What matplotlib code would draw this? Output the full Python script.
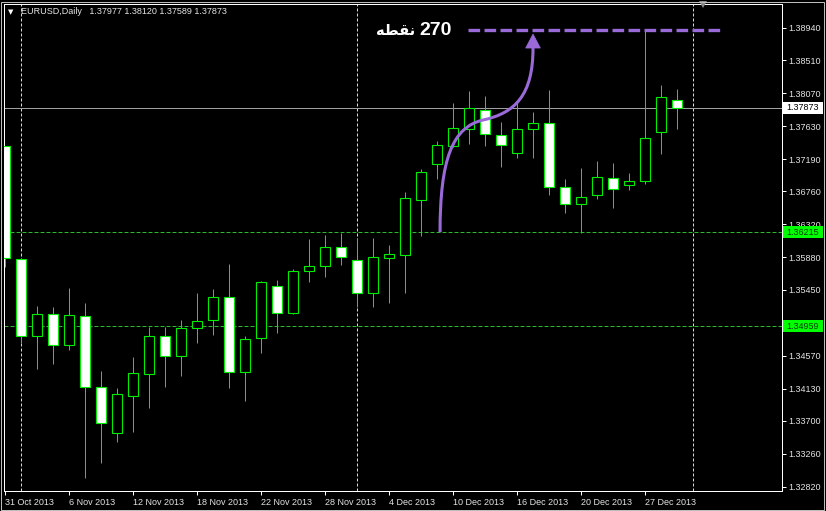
import matplotlib
matplotlib.use('Agg')
import matplotlib.pyplot as plt
from matplotlib.patches import Rectangle, Polygon, PathPatch
from matplotlib.path import Path
from matplotlib import font_manager

# ---------------- data ----------------
symbol_title = 'EURUSD,Daily'
last_ohlc = [1.37977, 1.38120, 1.37589, 1.37873]

opens = [1.37364, 1.35859, 1.34836, 1.35121, 1.34712, 1.35103, 1.34157, 1.33544,
         1.34037, 1.34330, 1.34836, 1.34570, 1.34943, 1.35045, 1.35348, 1.34357,
         1.34802, 1.35499, 1.35135, 1.35698, 1.35765, 1.36014, 1.35845, 1.35401,
         1.35868, 1.35912, 1.36645, 1.37124, 1.37368, 1.37587, 1.37844, 1.37511,
         1.37267, 1.37587, 1.37675, 1.36822, 1.36591, 1.36711, 1.36934, 1.36840,
         1.36898, 1.37547, 1.37977]
highs = [1.37364, 1.35859, 1.35232, 1.35223, 1.35468, 1.35276, 1.34370, 1.34143,
         1.34548, 1.34948, 1.34956, 1.35041, 1.35401, 1.35455, 1.35788, 1.34836,
         1.35565, 1.35579, 1.35720, 1.36121, 1.36178, 1.36201, 1.36134, 1.36134,
         1.36045, 1.36755, 1.37054, 1.37435, 1.37941, 1.38101, 1.38031, 1.37688,
         1.37950, 1.37821, 1.38110, 1.36929, 1.37067, 1.37164, 1.37134, 1.37000,
         1.38900, 1.38177, 1.38120]
lows = [1.35752, 1.34735, 1.34389, 1.34455, 1.34646, 1.32940, 1.33144, 1.33416,
        1.33557, 1.33877, 1.34157, 1.34299, 1.34735, 1.34846, 1.34135, 1.33966,
        1.34602, 1.34868, 1.35125, 1.35548, 1.35623, 1.35778, 1.35223, 1.35215,
        1.35268, 1.35401, 1.36165, 1.36920, 1.37355, 1.37391, 1.37364, 1.37080,
        1.37200, 1.37200, 1.36711, 1.36467, 1.36205, 1.36654, 1.36534, 1.36778,
        1.36858, 1.37258, 1.37589]
closes = [1.35872, 1.34836, 1.35121, 1.34712, 1.35108, 1.34157, 1.33677, 1.34055,
          1.34335, 1.34836, 1.34570, 1.34935, 1.35036, 1.35356, 1.34357, 1.34788,
          1.35548, 1.35143, 1.35702, 1.35769, 1.36022, 1.35881, 1.35401, 1.35889,
          1.35925, 1.36667, 1.37022, 1.37378, 1.37600, 1.37867, 1.37524, 1.37378,
          1.37587, 1.37675, 1.36814, 1.36591, 1.36689, 1.36955, 1.36791, 1.36898,
          1.37467, 1.38013, 1.37873]

date_labels = ['31 Oct 2013', '6 Nov 2013', '12 Nov 2013', '18 Nov 2013', '22 Nov 2013',
               '28 Nov 2013', '4 Dec 2013', '10 Dec 2013', '16 Dec 2013', '20 Dec 2013',
               '27 Dec 2013']
date_label_bars = [0, 4, 8, 12, 16, 20, 24, 28, 32, 36, 40]
separator_bars = [1, 22, 43]

price_ticks = [1.38940, 1.38510, 1.38070, 1.37630, 1.37190, 1.36760, 1.36320, 1.35880,
               1.35450, 1.35010, 1.34570, 1.34130, 1.33700, 1.33260, 1.32820]
bid_price = 1.37873
level_lines = [1.36215, 1.34959]
target_points = 270
point_size = 0.0001
target_level = level_lines[0] + target_points * point_size
arabic_word = '\ufeea\ufec4\ufed8\ufee7'   # "نقطه" in shaped visual order

# ---------------- style ----------------
W, H = 826, 511
BG = 'black'
GREEN = '#00ee00'
TXT = '#e4e4e4'
PURPLE = '#9a6bd8'
PX = 0.72  # 1 pixel in points

plt.rcParams['font.family'] = ['Liberation Sans', 'DejaVu Sans']

fig = plt.figure(figsize=(W / 100, H / 100), dpi=100, facecolor=BG)


def frect(x0, y0, x1, y1):
    return [x0 / W, 1 - y1 / H, (x1 - x0) / W, (y1 - y0) / H]


ax = fig.add_axes(frect(3.5, 4, 781.7, 490.5))
ax.set_facecolor(BG)
ax.set_xlim(-0.11, 48.52)
ax.set_ylim(1.32773, 1.39257)

bars = list(range(len(opens)))

# wicks
ax.vlines(bars, lows, highs, colors=GREEN, linewidth=PX, zorder=3)
# bodies
for i in bars:
    o, c = opens[i], closes[i]
    lo, hi = min(o, c), max(o, c)
    fill = 'white' if c < o else 'black'
    ax.bar(i, max(hi - lo, 0.00004), bottom=lo, width=0.64, color=fill,
           edgecolor=GREEN, linewidth=PX * 1.1, zorder=4)

# period separators
for b in separator_bars:
    ax.axvline(b, color='#d8d8d8', linewidth=PX, linestyle=(0, (3, 2)), zorder=2)

# bid line
ax.axhline(bid_price, color='#a0a0a0', linewidth=PX, zorder=2)
# horizontal level lines
for lv in level_lines:
    ax.axhline(lv, color='#2cb82c', linewidth=PX, linestyle=(0, (4, 2)), zorder=2)

# target dashed line
ax.plot([28.9, 44.7], [target_level, target_level], color=PURPLE, linewidth=2.4,
        linestyle=(0, (3.5, 1.3)), zorder=6, solid_capstyle='butt')

# curved arrow from the level up to the target
verts = [(27.17, level_lines[0]), (27.17, 1.37178), (27.92, 1.37617), (29.86, 1.37711),
         (31.86, 1.37804), (32.98, 1.38044), (32.98, 1.38670)]
codes = [Path.MOVETO, Path.CURVE4, Path.CURVE4, Path.CURVE4,
         Path.CURVE4, Path.CURVE4, Path.CURVE4]
ax.add_patch(PathPatch(Path(verts, codes), fill=False, edgecolor=PURPLE,
                       linewidth=2.2, zorder=6))
ax.add_patch(Polygon([(32.52, 1.38670), (33.44, 1.38670), (32.98, 1.38857)],
                     closed=True, facecolor=PURPLE, edgecolor=PURPLE, linewidth=0.5,
                     zorder=6))

# annotation text
names = {f.name for f in font_manager.fontManager.ttflist}
narrow = 'Liberation Sans Narrow' if 'Liberation Sans Narrow' in names else 'Liberation Sans'
num_size = 16.5 if narrow == 'Liberation Sans Narrow' else 14
ax.text(27.92, target_level - 0.00005, str(target_points), color='white', fontsize=num_size,
        fontweight='bold', family=[narrow, 'DejaVu Sans'], ha='right', va='center',
        zorder=7)
ax.text(25.6, target_level - 0.00008, arabic_word, color='white', fontsize=10.5,
        fontweight='bold', family=['DejaVu Sans'], ha='right', va='center', zorder=7)

# spines
for s in ax.spines.values():
    s.set_color('white')
    s.set_linewidth(PX)

# y axis on right
ax.yaxis.tick_right()
ax.set_yticks(price_ticks)
ax.set_yticklabels([f'{p:.5f}' for p in price_ticks])
ax.tick_params(axis='y', colors='white', labelcolor=TXT, length=3, width=PX, pad=2,
               labelsize=6.5)

# x axis
ax.set_xticks(date_label_bars)
ax.set_xticklabels(date_labels, ha='left')
ax.tick_params(axis='x', colors='white', labelcolor=TXT, length=3, width=PX, pad=2.5,
               labelsize=6.5)

# price boxes on the axis
ytr = ax.get_yaxis_transform()
box_h = 0.0016
for p, fc, tc in [(bid_price, 'white', 'black'), (level_lines[0], '#00ff00', '#063806'),
                  (level_lines[1], '#00ff00', '#063806')]:
    ax.add_patch(Rectangle((1.0017, p - box_h / 2), 0.0514, box_h, transform=ytr,
                           facecolor=fc, edgecolor='none', clip_on=False, zorder=10))
    ax.text(1.0017 + 0.0257, p, f'{p:.5f}', transform=ytr, color=tc, fontsize=6.5,
            ha='center', va='center', clip_on=False, zorder=11)

# header
fig.text(8 / W, 1 - 12 / H, '\u25bc', color='white', fontsize=5,
         family=['DejaVu Sans'], ha='left', va='center')
fig.text(20.7 / W, 1 - 12 / H,
         symbol_title + '   ' + ' '.join(f'{v:.5f}' for v in last_ohlc),
         color=TXT, fontsize=6.5, ha='left', va='center')

# chart shift marker
fig.add_artist(Polygon([(699 / W, 1 - 1 / H), (707 / W, 1 - 1 / H), (703 / W, 1 - 8 / H)],
                       closed=True, transform=fig.transFigure, facecolor='#8a8a8a',
                       edgecolor='none'))

# outer frame
fig.add_artist(Rectangle((1 / W, 1.5 / H), 823 / W, 508 / H, transform=fig.transFigure,
                         fill=False, edgecolor='#bcbcbc', linewidth=PX))

fig.savefig('out.png', dpi=100, facecolor=BG)
